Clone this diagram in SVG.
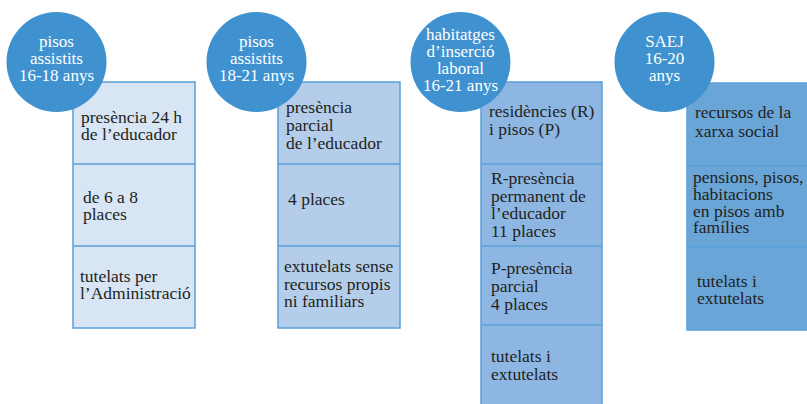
<svg xmlns="http://www.w3.org/2000/svg" width="807" height="404" viewBox="0 0 807 404">
<style>
.box{stroke:#5B9FD8;stroke-width:1.5}
.div{stroke:#5B9FD8;stroke-width:1.5;fill:none}
.c1{fill:#D7E5F4}.c2{fill:#B3CDEA}.c3{fill:#8EB6E2}.c4{fill:#6AA5D8}
.circ{fill:#3F92CF}
.t{font-family:"Liberation Serif","Times New Roman",serif;font-size:17.5px;fill:#231F20}
.w{font-family:"Liberation Serif","Times New Roman",serif;font-size:17px;fill:#FFFFFF;text-anchor:middle}
</style>
<rect width="807" height="404" fill="#FFFFFF"/>
<g id="connectors"></g>
<g id="col1">
<rect class="box c1" x="73" y="82" width="122" height="246"/>
<line class="div" x1="73" y1="164" x2="195" y2="164"/>
<line class="div" x1="73" y1="246" x2="195" y2="246"/>
<text class="t" x="81" y="123">presència 24 h</text>
<text class="t" x="81" y="140">de l’educador</text>
<text class="t" x="83" y="203">de 6 a 8</text>
<text class="t" x="83" y="220">places</text>
<text class="t" x="80" y="282">tutelats per</text>
<text class="t" x="80" y="299">l’Administració</text>
<circle class="circ" cx="56.5" cy="62" r="50"/>
<text class="w" x="56.5" y="47">pisos</text>
<text class="w" x="56.5" y="64">assistits</text>
<text class="w" x="56.5" y="81">16-18 anys</text>
</g>
<g id="col2">
<rect class="box c2" x="278" y="82" width="122" height="246"/>
<line class="div" x1="278" y1="164" x2="400" y2="164"/>
<line class="div" x1="278" y1="246" x2="400" y2="246"/>
<text class="t" x="286" y="113">presència</text>
<text class="t" x="286" y="131">parcial</text>
<text class="t" x="286" y="149">de l’educador</text>
<text class="t" x="288" y="205">4 places</text>
<text class="t" x="284" y="272">extutelats sense</text>
<text class="t" x="284" y="289.5">recursos propis</text>
<text class="t" x="284" y="307">ni familiars</text>
<circle class="circ" cx="256.5" cy="62" r="50"/>
<text class="w" x="256.5" y="47">pisos</text>
<text class="w" x="256.5" y="64">assistits</text>
<text class="w" x="256.5" y="81">18-21 anys</text>
</g>
<g id="col3">
<rect class="box c3" x="481" y="82" width="121" height="330"/>
<line class="div" x1="481" y1="164" x2="602" y2="164"/>
<line class="div" x1="481" y1="246" x2="602" y2="246"/>
<line class="div" x1="481" y1="325" x2="602" y2="325"/>
<text class="t" x="489" y="117">residències (R)</text>
<text class="t" x="489" y="135">i pisos (P)</text>
<text class="t" x="491" y="184">R-presència</text>
<text class="t" x="491" y="201.5">permanent de</text>
<text class="t" x="491" y="219">l’educador</text>
<text class="t" x="491" y="237">11 places</text>
<text class="t" x="491" y="274">P-presència</text>
<text class="t" x="491" y="292">parcial</text>
<text class="t" x="491" y="310">4 places</text>
<text class="t" x="491" y="362">tutelats i</text>
<text class="t" x="491" y="380">extutelats</text>
<circle class="circ" cx="460.5" cy="62" r="50"/>
<text class="w" x="460.5" y="40">habitatges</text>
<text class="w" x="460.5" y="57">d’inserció</text>
<text class="w" x="460.5" y="74">laboral</text>
<text class="w" x="460.5" y="91">16-21 anys</text>
</g>
<g id="col4">
<rect class="box c4" x="687" y="83" width="130" height="247"/>
<line class="div" x1="687" y1="166" x2="817" y2="166"/>
<line class="div" x1="687" y1="247" x2="817" y2="247"/>
<text class="t" x="695" y="118">recursos de la</text>
<text class="t" x="695" y="137">xarxa social</text>
<text class="t" x="693" y="183">pensions, pisos,</text>
<text class="t" x="693" y="199.5">habitacions</text>
<text class="t" x="693" y="216.5">en pisos amb</text>
<text class="t" x="693" y="233">famílies</text>
<text class="t" x="697" y="287">tutelats i</text>
<text class="t" x="697" y="304">extutelats</text>
<circle class="circ" cx="664.5" cy="62" r="50"/>
<text class="w" x="664.5" y="47">SAEJ</text>
<text class="w" x="664.5" y="64">16-20</text>
<text class="w" x="664.5" y="81">anys</text>
</g>
</svg>
